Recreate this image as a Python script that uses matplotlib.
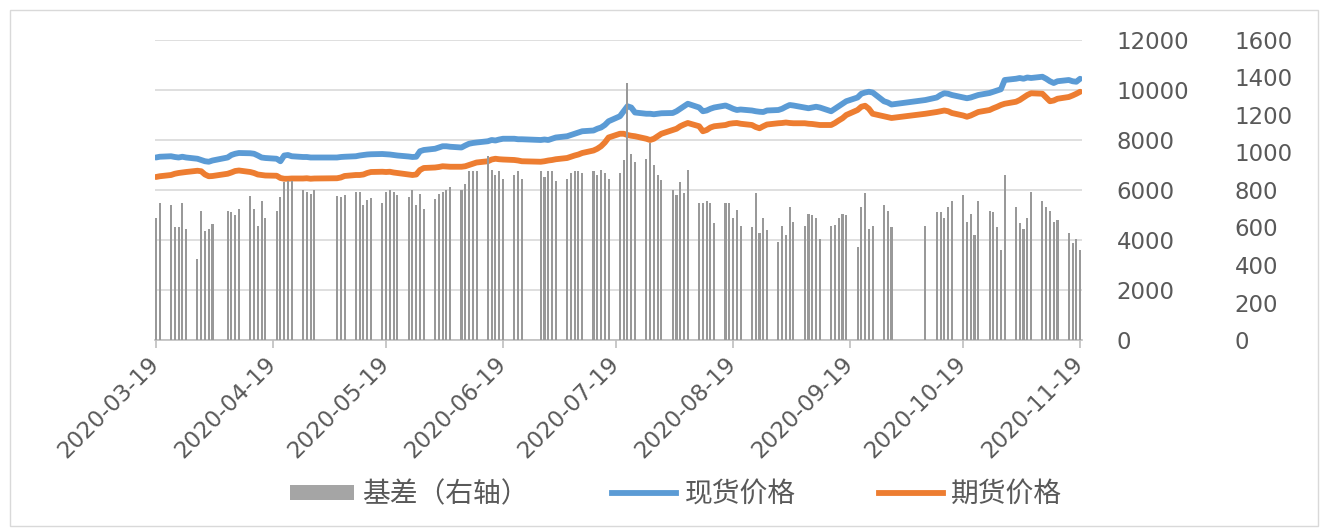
import matplotlib
matplotlib.use("Agg")
import matplotlib.pyplot as plt
from matplotlib.patches import Patch, Rectangle
from matplotlib.lines import Line2D
import pandas as pd
import numpy as np

plt.rcParams['font.family'] = ['DejaVu Sans', 'Noto Sans CJK SC']

# ---------------- data ----------------
start_date = "2020-03-19"
end_date = "2020-11-19"
holidays = ["2020-04-06", "2020-05-01", "2020-05-04", "2020-05-05",
            "2020-06-25", "2020-06-26", "2020-10-01", "2020-10-02",
            "2020-10-05", "2020-10-06", "2020-10-07", "2020-10-08"]

tick_labels = ["2020-03-19", "2020-04-19", "2020-05-19", "2020-06-19",
               "2020-07-19", "2020-08-19", "2020-09-19", "2020-10-19",
               "2020-11-19"]

spot_price = [
    # Mar
    7300, 7330, 7350, 7320, 7300, 7330, 7300, 7250, 7200,
    # Apr
    7150, 7130, 7180, 7300, 7400, 7450, 7480, 7470, 7450, 7380, 7300, 7280,
    7250, 7150, 7380, 7400, 7350, 7320, 7320, 7300, 7300,
    # May
    7300, 7320, 7330, 7350, 7380, 7400, 7420, 7430, 7440, 7430, 7420, 7400,
    7380, 7340, 7320, 7330, 7550, 7600,
    # Jun
    7650, 7700, 7750, 7750, 7730, 7700, 7780, 7850, 7880, 7900, 7950, 8000,
    7980, 8020, 8050, 8050, 8030, 8030, 8000, 8020,
    # Jul
    8000, 8050, 8100, 8150, 8200, 8250, 8300, 8350, 8380, 8450, 8500, 8600,
    8750, 8950, 9150, 9350, 9300, 9100, 9050, 9050, 9030, 9050, 9070,
    # Aug
    9080, 9150, 9250, 9350, 9450, 9300, 9150, 9180, 9250, 9300, 9380, 9320,
    9250, 9200, 9220, 9180, 9150, 9130, 9120, 9180, 9200,
    # Sep
    9250, 9330, 9400, 9380, 9300, 9270, 9300, 9330, 9300, 9150, 9250, 9350,
    9450, 9550, 9700, 9850, 9900, 9930, 9900, 9550, 9500, 9420,
    # Oct
    9600, 9700, 9800, 9870, 9850, 9800, 9700, 9670, 9700, 9750, 9800, 9880,
    9930, 9980, 10030, 10400,
    # Nov
    10450, 10480, 10450, 10500, 10480, 10530, 10450, 10350, 10280, 10350,
    10400, 10350, 10330, 10450,
]

futures_price = [
    # Mar
    6520, 6550, 6600, 6650, 6680, 6700, 6720, 6770, 6750,
    # Apr
    6620, 6550, 6560, 6650, 6700, 6760, 6780, 6720, 6680, 6620, 6600, 6580,
    6570, 6480, 6450, 6450, 6460, 6460, 6470, 6450, 6460,
    # May
    6470, 6500, 6560, 6600, 6600, 6620, 6680, 6720, 6730, 6720, 6730, 6700,
    6680, 6620, 6600, 6620, 6800, 6880,
    # Jun
    6900, 6920, 6950, 6940, 6930, 6930, 6950, 7000, 7050, 7100, 7150, 7220,
    7250, 7230, 7220, 7200, 7180, 7150, 7130, 7150,
    # Jul
    7180, 7200, 7230, 7280, 7330, 7380, 7420, 7480, 7580, 7650, 7750, 7900,
    8100, 8250, 8250, 8200, 8170, 8150, 8050, 8000, 8050, 8150, 8250,
    # Aug
    8400, 8450, 8550, 8620, 8680, 8550, 8350, 8400, 8500, 8550, 8600, 8650,
    8670, 8680, 8650, 8600, 8520, 8470, 8550, 8620, 8670,
    # Sep
    8680, 8700, 8680, 8670, 8670, 8650, 8640, 8620, 8600, 8600, 8680, 8780,
    8870, 9000, 9200, 9330, 9370, 9250, 9050, 8950, 8920, 8880,
    # Oct
    9050, 9120, 9150, 9180, 9150, 9080, 8980, 8930, 8980, 9050, 9120, 9200,
    9270, 9330, 9400, 9450,
    # Nov
    9530, 9600, 9700, 9800, 9870, 9850, 9700, 9550, 9580, 9650, 9720, 9780,
    9850, 9930,
]

basis = [
    # Mar
    650, 730, 720, 600, 600, 730, 590, 430, 690,
    # Apr
    580, 590, 620, 690, 680, 665, 700, 770, 700, 610, 740, 650,
    690, 760, 840, 850, 850, 800, 790, 780, 800,
    # May
    770, 760, 775, 790, 790, 720, 745, 755, 730, 790, 800, 790,
    775, 760, 800, 720, 780, 700,
    # Jun
    750, 780, 790, 800, 815, 800, 830, 900, 900, 900, 980, 905,
    880, 900, 860, 880, 900, 860, 900, 870,
    # Jul
    900, 900, 850, 860, 890, 900, 900, 890, 900, 880, 905, 890,
    860, 890, 960, 1370, 990, 950, 965, 1050, 933, 880, 853,
    # Aug
    800, 773, 843, 786, 907, 730, 730, 740, 730, 624, 730, 730,
    650, 693, 610, 600, 786, 570, 650, 587, 523,
    # Sep
    610, 560, 710, 630, 610, 670, 665, 650, 540, 610, 615, 650,
    670, 665, 497, 710, 784, 590, 610, 720, 690, 600,
    # Oct
    610, 684, 680, 650, 710, 740, 773, 630, 670, 560, 740, 690,
    680, 600, 480, 880,
    # Nov
    710, 624, 590, 650, 790, 740, 710, 690, 630, 640, 570, 515, 540, 480,
]

legend_labels = ["基差（右轴）", "现货价格", "期货价格"]

# trading days
dates = pd.bdate_range(start_date, end_date)
dates = dates[~dates.isin(pd.to_datetime(holidays))]
assert len(dates) == len(spot_price) == len(futures_price) == len(basis), \
    (len(dates), len(spot_price), len(futures_price), len(basis))

# ---------------- figure ----------------
W, H = 1326, 528
fig = plt.figure(figsize=(W / 100, H / 100), dpi=100)
fig.patch.set_facecolor("white")

ax = fig.add_axes([155 / W, (H - 340) / H, 927 / W, 300 / H])
ax2 = ax.twinx()

text_color = "#595959"
blue = "#5b9bd5"
orange = "#ed7d31"
gray = "#a5a5a5"

ax.plot(dates, spot_price, color=blue, lw=4.2, solid_joinstyle="round",
        solid_capstyle="round", zorder=3)
ax.plot(dates, futures_price, color=orange, lw=4.2, solid_joinstyle="round",
        solid_capstyle="round", zorder=3)
ax2.bar(dates, basis, width=0.55, color="#999999", linewidth=0)

# y axes
ax.set_ylim(0, 12000)
ax.set_yticks(np.arange(0, 12001, 2000))
ax2.set_ylim(0, 1600)
ax2.set_yticks(np.arange(0, 1601, 200))

ax.yaxis.set_ticks_position("right")
ax.tick_params(axis="y", which="both", length=0, pad=25, labelsize=16.5,
               labelcolor=text_color, right=False, left=False,
               labelright=True, labelleft=False)
ax2.tick_params(axis="y", which="both", length=0, pad=110, labelsize=16.5,
                labelcolor=text_color)

ax.grid(axis="y", color="#d9d9d9", lw=1.2)
ax.set_axisbelow(True)

for s in ["top", "left", "right"]:
    ax.spines[s].set_visible(False)
for s in ax2.spines.values():
    s.set_visible(False)
ax.spines["bottom"].set_color("#bfbfbf")
ax.spines["bottom"].set_linewidth(1.2)

# x axis
x0 = pd.Timestamp(start_date) - pd.Timedelta(hours=6)
x1 = pd.Timestamp(end_date) + pd.Timedelta(hours=12)
ax.set_xlim(x0, x1)
ax.set_xticks(pd.to_datetime(tick_labels))
ax.set_xticklabels(tick_labels, rotation=45, ha="right", va="center",
                   rotation_mode="anchor")
ax.tick_params(axis="x", length=6, color="#bfbfbf", width=1.2, pad=9,
               labelsize=16.5, labelcolor=text_color)

# legend
handles = [
    Patch(facecolor=gray, edgecolor="none"),
    Line2D([0], [0], color=blue, lw=4.2),
    Line2D([0], [0], color=orange, lw=4.2),
]
leg = fig.legend(handles, legend_labels, loc="center",
                 bbox_to_anchor=(676 / W, (H - 494) / H), ncol=3,
                 frameon=False, fontsize=20, handlelength=2.3,
                 handleheight=0.45, handletextpad=0.3, columnspacing=3.0)
for t in leg.get_texts():
    t.set_color(text_color)

# chart border
fig.add_artist(Rectangle((10 / W, 2 / H), 1308 / W, 516 / H, fill=False,
                         edgecolor="#d9d9d9", lw=1, transform=fig.transFigure))

fig.savefig("out.png", dpi=100, facecolor="white")
